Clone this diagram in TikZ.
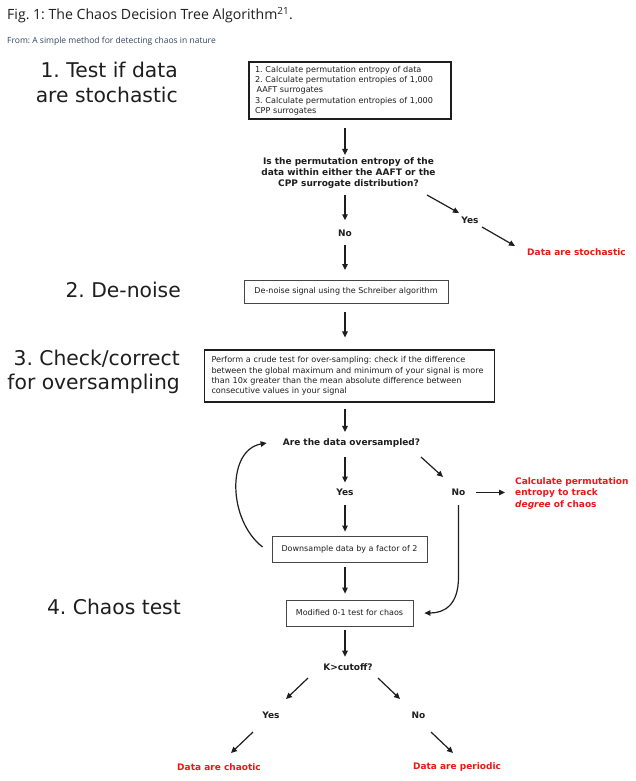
\documentclass[tikz,border=0pt]{standalone}
\usepackage{fontspec}
\setmainfont{DejaVu Sans}
\newfontfamily\headfont{Open Sans}
\usepackage{tikz}
\usetikzlibrary{arrows.meta, positioning, calc}
\usepackage{xcolor}
\definecolor{ink}{RGB}{30, 30, 30}
\definecolor{frame}{RGB}{70, 70, 70}
\definecolor{alert}{RGB}{240, 22, 22}
\definecolor{source}{RGB}{52, 68, 96}
\frenchspacing
\tikzset{
    stepbox/.style={rectangle, draw=ink, line width=1.1pt, inner xsep=6pt, inner ysep=3pt, align=left, text=ink, font=\fontsize{8.1}{10.3}\selectfont},
    thinbox/.style={rectangle, draw=frame, line width=0.8pt, inner sep=3pt, align=center, text=ink, font=\fontsize{8}{10.3}\selectfont},
    question/.style={inner sep=0pt, align=center, text=ink, font=\bfseries\fontsize{9}{11}\selectfont},
    answer/.style={inner sep=0pt, text=ink, font=\bfseries\fontsize{9}{11}\selectfont},
    outcome/.style={inner sep=0pt, align=left, text=alert, font=\bfseries\fontsize{9}{11.5}\selectfont},
    phase/.style={inner sep=0pt, align=right, text=ink, font=\fontsize{20.3}{24.5}\selectfont},
    arrow/.style={line width=1.2pt, -{Triangle[length=6pt,width=5.5pt]}, ink}
}

\begin{document}
\begin{tikzpicture}[x=1pt, y=-1pt]
    \useasboundingbox[fill=white] (0,0) rectangle (636,781);
    \coordinate (axis) at (345,0);

    % Caption
    \node[anchor=base west, inner sep=0pt, text=ink, font=\headfont\fontsize{14.1}{16}\selectfont] (caption) at (7,20) {Fig. 1: The Chaos Decision Tree Algorithm\textsuperscript{21}.};
    \node[anchor=base west, inner sep=0pt, text=source, font=\headfont\fontsize{8.5}{10}\selectfont] (from) at (7,44) {From: A simple method for detecting chaos in nature};

    % Phase labels
    \node[phase, anchor=north east] (phase1) at (178,62) {1. Test if data\\are stochastic};
    \node[phase, anchor=base east] (phase2) at (181,297) {2. De-noise};
    \node[phase, anchor=north east] (phase3) at (180,349.5) {3. Check/correct\\for oversampling};
    \node[phase, anchor=base east] (phase4) at (181,614) {4. Chaos test};

    % Stochastic test
    \node[stepbox, text width=190pt, minimum height=57pt] (surr) at (350,90.5) {1. Calculate permutation entropy of data\\2. Calculate permutation entropies of 1,000\\\hspace*{1.5pt}AAFT surrogates\\3. Calculate permutation entropies of 1,000\\CPP surrogates};
    \node[question] (inside) at (348.5,173.5) {Is the permutation entropy of the\\data within either the AAFT or the\\CPP surrogate distribution?};
    \node[answer] (no1) at (345,233.5) {No};
    \node[answer] (yes1) at (470,220.5) {Yes};
    \node[outcome, anchor=west] (stoch) at (527,252) {Data are stochastic};

    % De-noise
    \node[thinbox, minimum width=204pt, minimum height=23pt] (denoise) at (346,291.5) {De-noise signal using the Schreiber algorithm};

    % Oversampling
    \node[stepbox, text width=276pt, minimum height=52pt, inner xsep=7pt] (crude) at (349.5,376) {Perform a crude test for over-sampling: check if the difference\\between the global maximum and minimum of your signal is more\\than 10x greater than the mean absolute difference between\\consecutive values in your signal};
    \node[question] (over) at (351.5,443) {Are the data oversampled?};
    \node[answer] (yes2) at (345,492.5) {Yes};
    \node[answer] (no2) at (458.5,492.5) {No};
    \node[outcome, anchor=west] (track) at (515,493.5) {Calculate permutation\\entropy to track\\\textit{degree} of chaos};
    \node[thinbox, minimum width=155pt, minimum height=26pt] (down) at (349.5,549) {Downsample data by a factor of 2};

    % Chaos test
    \node[thinbox, minimum width=127pt, minimum height=26pt] (zeroone) at (349.5,613) {Modified 0-1 test for chaos};
    \node[question] (cutoff) at (348,667) {K>cutoff?};
    \node[answer] (yes3) at (271,715.5) {Yes};
    \node[answer] (no3) at (418.5,715.5) {No};
    \node[outcome] (chaotic) at (219,767.5) {Data are chaotic};
    \node[outcome] (periodic) at (457,767.5) {Data are periodic};

    % Arrows
    \draw[arrow, shorten <=8.5pt, shorten >=3pt] (surr.south -| axis) -- (inside.north -| axis);
    \draw[arrow, shorten <=6pt, shorten >=9.7pt] (inside.south -| axis) -- (no1.north);
    \draw[arrow, shorten <=8.2pt, shorten >=9.6pt] (no1.south) -- (denoise.north -| axis);
    \draw[arrow] ([shift={(78.5,21.5)}]inside.center) -- ([shift={(-11,-7.5)}]yes1.center);
    \draw[arrow] ([shift={(12,6.5)}]yes1.center) -- ([shift={(-12,-6)}]stoch.west);
    \draw[arrow, shorten <=9pt, shorten >=12pt] (denoise.south -| axis) -- (crude.north -| axis);
    \draw[arrow, shorten <=6pt, shorten >=6.5pt] (crude.south -| axis) -- (over.north -| axis);
    \draw[arrow, shorten <=9.5pt, shorten >=6.4pt] (over.south -| axis) -- (yes2.north);
    \draw[arrow, shorten <=9pt, shorten >=4pt] (yes2.south) -- (down.north -| axis);
    \draw[arrow] ([shift={(69.5,14)}]over.center) -- ([shift={(-15.5,-15.5)}]no2.center);
    \draw[arrow, shorten <=10pt, shorten >=10pt] (no2.east) -- (no2.east -| track.west);
    \draw[arrow] ([shift={(-9,-2)}]down.west) .. controls +(-35,-27) and +(-40,7) .. ([xshift=-16pt]over.west);
    \draw[arrow] ([yshift=-9pt]no2.south) -- ++(0,72) .. controls +(0,28) and +(20,0) .. ([xshift=11pt]zeroone.east);
    \draw[arrow, shorten <=5pt, shorten >=6pt] (down.south -| axis) -- (zeroone.north -| axis);
    \draw[arrow, shorten <=4pt, shorten >=6.6pt] (zeroone.south -| axis) -- (cutoff.north -| axis);
    \draw[arrow] ([shift={(-40,11)}]cutoff.center) -- ([shift={(15,-16.5)}]yes3.center);
    \draw[arrow] ([shift={(30,11)}]cutoff.center) -- ([shift={(-18.5,-16.5)}]no3.center);
    \draw[arrow] ([shift={(-18,16.5)}]yes3.center) -- ([shift={(12,-14.5)}]chaotic.center);
    \draw[arrow] ([shift={(12.5,16.5)}]no3.center) -- ([shift={(-4,-14.5)}]periodic.center);
\end{tikzpicture}
\end{document}
